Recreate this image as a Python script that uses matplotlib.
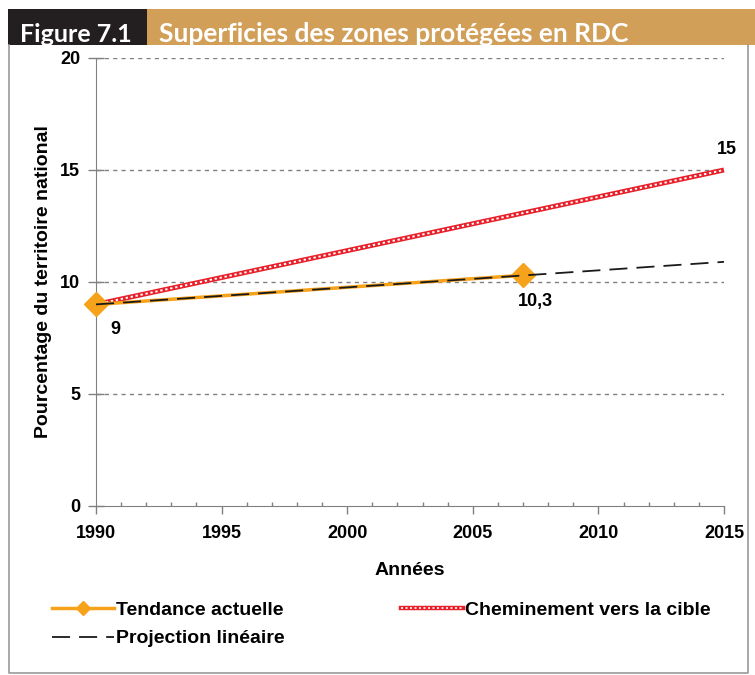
import matplotlib
matplotlib.use("Agg")
import matplotlib.pyplot as plt
from matplotlib.patches import Rectangle
from matplotlib.lines import Line2D
from matplotlib.ticker import MultipleLocator

# Data
tend_years = [1990, 2007]
tend_vals = [9, 10.3]
proj_years = [1990, 2015]
proj_vals = [9, 10.9]
cible_years = [1990, 2015]
cible_vals = [9, 15]
yticks = [0, 5, 10, 15, 20]
xticks = [1990, 1995, 2000, 2005, 2010, 2015]

plt.rcParams['font.family'] = ['Liberation Sans', 'DejaVu Sans']
plt.rcParams['font.weight'] = 'bold'

fig = plt.figure(figsize=(7.55, 6.75), dpi=100)
W, H = 755, 675

def fx(px):
    return px / W
def fy(py):
    return 1 - py / H

# Title bar
orange = '#D29F58'
fig.patches.append(Rectangle((fx(8), fy(45)), fx(139), 36 / H, transform=fig.transFigure,
                             facecolor='#231F20', edgecolor='none'))
fig.patches.append(Rectangle((fx(147), fy(45)), fx(608), 36 / H, transform=fig.transFigure,
                             facecolor=orange, edgecolor='none'))
fig.text(fx(20), fy(42), 'Figure 7.1', color='white', fontsize=18, fontweight='bold',
         family=['Lato', 'DejaVu Sans'], va='baseline', ha='left')
fig.text(fx(159), fy(42), 'Superficies des zones protégées en RDC', color='white', fontsize=19,
         fontweight='bold', family=['Lato', 'DejaVu Sans'], va='baseline', ha='left')
# Outer border
fig.lines.append(Line2D([fx(9), fx(9), fx(748), fx(748)], [fy(45), fy(673), fy(673), fy(45)],
                        transform=fig.transFigure, color='#9A9A9A', lw=1.2))

ax = fig.add_axes([fx(96), fy(506), fx(724 - 96), (506 - 58) / H])
ax.set_xlim(1990, 2015)
ax.set_ylim(0, 20)
ax.set_xticks(xticks)
ax.set_yticks(yticks)
ax.xaxis.set_minor_locator(MultipleLocator(1))
ax.tick_params(labelsize=13, colors='black', width=1, color='#808080')
ax.tick_params(axis='x', which='major', direction='out', length=6, pad=8)
ax.tick_params(axis='x', which='minor', direction='in', length=3, width=1, color='#808080')
ax.tick_params(axis='y', which='major', direction='inout', length=11, pad=6)
for lab in ax.get_xticklabels() + ax.get_yticklabels():
    lab.set_fontweight('bold')
for sp in ['top', 'right']:
    ax.spines[sp].set_visible(False)
for sp in ['left', 'bottom']:
    ax.spines[sp].set_color('#808080')
for y in yticks[1:]:
    ax.axhline(y, color='#808080', lw=1, ls=(0, (3, 3)), zorder=0)

orange_line = '#F7A21B'
# Cible (red chain)
ax.plot(cible_years, cible_vals, color='#E8202A', lw=3.6, solid_capstyle='butt', zorder=3, clip_on=False)
ax.plot(cible_years, cible_vals, color='white', lw=1.4, ls=(0, (1.2, 1.4)), zorder=3.1, clip_on=False)
# Tendance
ax.plot(tend_years, tend_vals, color=orange_line, lw=2.5, marker='D', markersize=12,
        zorder=4, clip_on=False)
# Projection
ax.plot(proj_years, proj_vals, color='#1A1A1A', lw=1.3, ls=(0, (10, 5)), zorder=5, clip_on=False)

ax.annotate(f"{tend_vals[0]:g}".replace('.', ','), (tend_years[0], tend_vals[0]), xytext=(14, -18),
            textcoords='offset points', fontsize=13, fontweight='bold', ha='center', va='center')
ax.annotate(f"{tend_vals[1]:g}".replace('.', ','), (tend_years[1], tend_vals[1]), xytext=(9, -19),
            textcoords='offset points', fontsize=13, fontweight='bold', ha='center', va='center')
ax.annotate(f"{cible_vals[1]:g}", (cible_years[1], cible_vals[1]), xytext=(2, 15),
            textcoords='offset points', fontsize=13, fontweight='bold', ha='center', va='center')

ax.set_xlabel('Années', fontsize=14, fontweight='bold', labelpad=14)
ax.set_ylabel('Pourcentage du territoire national', fontsize=14, fontweight='bold', labelpad=6)

# Legend
h_tend = Line2D([], [], color=orange_line, lw=2.5, marker='D', markersize=7)
h_proj = Line2D([], [], color='#1A1A1A', lw=1.3, ls=(0, (10, 5)))
h_c1 = Line2D([], [], color='#E8202A', lw=3.2)
h_c2 = Line2D([], [], color='white', lw=1.2, ls=(0, (1.2, 1.5)))
leg = fig.legend([h_tend, h_proj, (h_c1, h_c2)],
                 ['Tendance actuelle', 'Projection linéaire', 'Cheminement vers la cible'],
                 ncol=2, loc='upper left', bbox_to_anchor=(fx(34), fy(584)),
                 frameon=False, prop={'size': 14, 'weight': 'bold'}, handlelength=3.2,
                 handletextpad=0.1, columnspacing=6.0, labelspacing=0.55, numpoints=1)

fig.savefig('out.png', dpi=100)
